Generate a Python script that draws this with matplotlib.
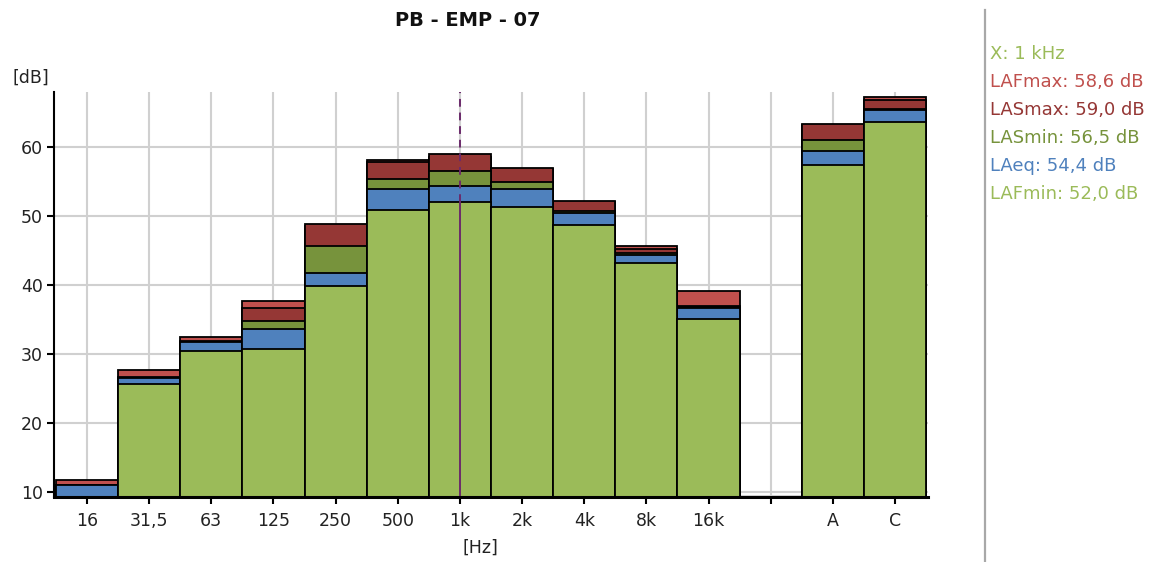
import numpy as np
import matplotlib
matplotlib.use("Agg")
import matplotlib.pyplot as plt
from matplotlib.lines import Line2D

plt.rcParams['font.family'] = ['DejaVu Sans']

# Octave bands plus the broadband A and C values (empty slot between them)
categories = ['16', '31,5', '63', '125', '250', '500', '1k', '2k', '4k', '8k', '16k', '', 'A', 'C']
nan = np.nan
LAFmax = [11.7, 27.7, 32.5, 37.7, 48.5, 58.2, 58.6, 56.8, 52.0, 45.7, 39.2, nan, 63.2, 67.3]
LASmax = [11.0, 26.7, 31.9, 36.7, 48.8, 57.8, 59.0, 57.0, 52.2, 45.3, 36.9, nan, 63.4, 66.8]
LASmin = [10.9, 26.5, 31.8, 34.8, 45.6, 55.4, 56.5, 54.9, 50.8, 44.7, 36.8, nan, 61.1, 65.6]
LAeq = [10.9, 26.5, 31.7, 33.6, 41.8, 53.9, 54.4, 53.9, 50.4, 44.4, 36.7, nan, 59.5, 65.4]
LAFmin = [8.9, 25.7, 30.4, 30.7, 39.8, 50.9, 52.0, 51.4, 48.7, 43.2, 35.1, nan, 57.5, 63.6]
y_ticks = [10, 20, 30, 40, 50, 60]
cursor_index = 6  # 1 kHz
cursor_label = '1 kHz'

# back-to-front drawing order
series = [
    ('LAFmax', LAFmax, '#c0504d'),
    ('LASmax', LASmax, '#953735'),
    ('LASmin', LASmin, '#77933c'),
    ('LAeq', LAeq, '#4f81bd'),
    ('LAFmin', LAFmin, '#9bbb59'),
]

W, H = 1175, 562
fig = plt.figure(figsize=(W / 100, H / 100), dpi=100)
ax_l, ax_r, ax_t, ax_b = 54, 928, 91.7, 496.7
ax = fig.add_axes([ax_l / W, 1 - ax_b / H, (ax_r - ax_l) / W, (ax_b - ax_t) / H])

x = np.arange(len(categories))
for i, (name, vals, color) in enumerate(series):
    ax.bar(x, vals, width=1.0, bottom=0, color=color, edgecolor='black',
           linewidth=1.3, zorder=3 + i)

# faint baseline in the empty slot
ax.hlines(9.42, 10.5, 11.5, color='#d4d4d4', lw=1.5, zorder=2)

# cursor line at the selected band
cy = LAFmin[cursor_index]
ax.vlines(cursor_index, 0, cy, color='#6b2a6b', lw=1.4, zorder=10)
ax.vlines(cursor_index, cy, 70, color='#6b2a6b', lw=1.4, linestyles=(0, (4, 3)), zorder=10)

ax.set_xlim(-0.53, 13.53)
ax.set_ylim(9.27, 68.07)
ax.set_xticks(x)
ax.set_xticklabels(categories)
ax.set_yticks(y_ticks)
ax.set_axisbelow(True)
ax.grid(True, color='#d0d0d0', lw=1.5, zorder=0)
for s in ('top', 'right'):
    ax.spines[s].set_visible(False)
ax.spines['left'].set_linewidth(1.5)
ax.spines['bottom'].set_linewidth(2.2)
ax.spines['left'].set_zorder(12)
ax.spines['bottom'].set_zorder(12)
ax.tick_params(axis='both', direction='out', length=5, width=1.5, colors='black',
               labelsize=12.5, labelcolor='#222222', pad=3)
ax.tick_params(axis='x', pad=6)

fig.text(468 / W, 1 - 20 / H, 'PB - EMP - 07', ha='center', va='center',
         fontsize=14, fontweight='bold', color='#111111')
fig.text(31 / W, 1 - 78 / H, '[dB]', ha='center', va='center', fontsize=12.5, color='#222222')
fig.text(480 / W, 1 - 548 / H, '[Hz]', ha='center', va='center', fontsize=12.5, color='#222222')

# separator between plot and readout panel
fig.add_artist(Line2D([985 / W, 985 / W], [0, 1 - 10 / H], color='#a8a8a8', lw=1.6))

# cursor readout
def fmt(v):
    return f'{v:.1f}'.replace('.', ',')

fig.text(990 / W, 1 - 54 / H, f'X: {cursor_label}', ha='left', va='center',
         fontsize=13, color='#9bbb59')
y0 = 82
for k, (name, vals, color) in enumerate(series):
    fig.text(990 / W, 1 - (y0 + 28 * k) / H, f'{name}: {fmt(vals[cursor_index])} dB',
             ha='left', va='center', fontsize=13, color=color)

fig.savefig('out.png', dpi=100)
